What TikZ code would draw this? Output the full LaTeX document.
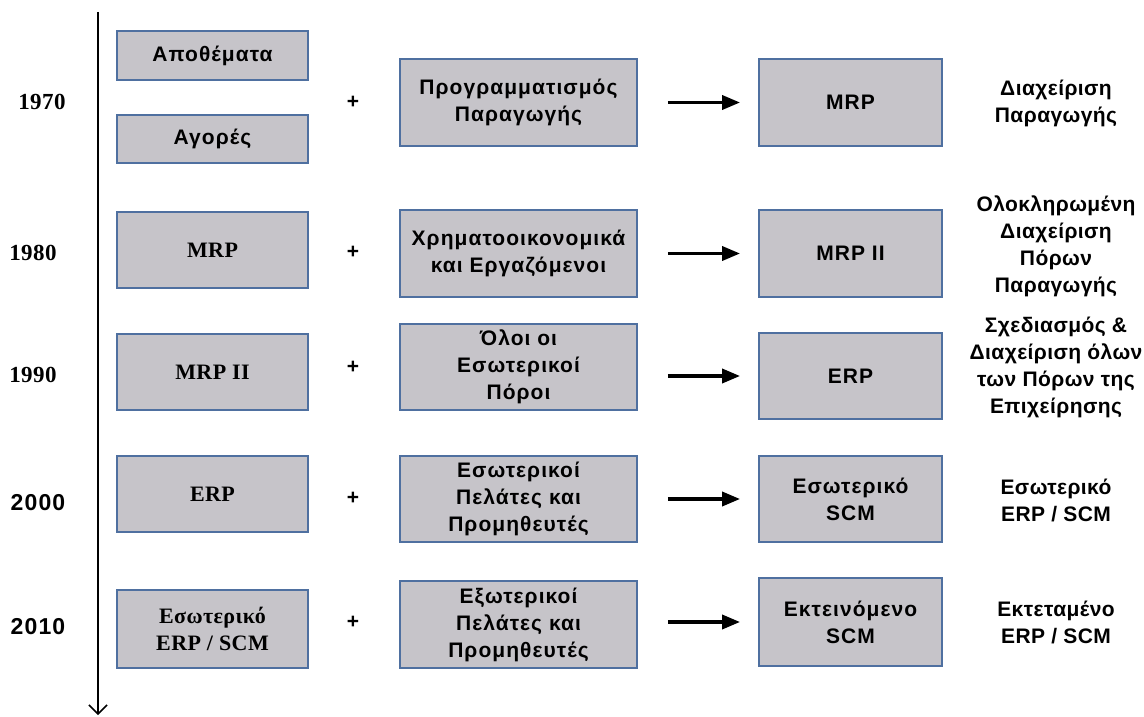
\documentclass[tikz,border=0pt]{standalone}
\usepackage{fontspec}
\setmainfont{Liberation Sans}[LetterSpace=5]
\newfontfamily\notesans{Liberation Sans}[LetterSpace=2]
\newfontfamily\timesgr{Liberation Serif}[LetterSpace=2]
\usetikzlibrary{arrows.meta}
\definecolor{boxfill}{RGB}{198,196,201}
\definecolor{boxline}{RGB}{79,112,160}
\tikzset{box/.style={draw=boxline, fill=boxfill, line width=1.8pt, align=center, inner sep=0pt,
                     font=\fontsize{21}{27}\selectfont\bfseries},
         tbox/.style={box, font=\fontsize{22}{27}\timesgr\bfseries},
         colA/.style={minimum width=191pt},
         colB/.style={minimum width=237pt},
         colC/.style={minimum width=183pt},
         year/.style={font=\fontsize{23}{27}\timesgr\bfseries},
         syear/.style={font=\fontsize{23}{27}\selectfont\bfseries},
         plus/.style={font=\fontsize{21}{27}\selectfont\bfseries},
         note/.style={align=center, inner sep=0pt, font=\fontsize{21}{27}\notesans\bfseries},
         evolve/.style={line width=3.5pt, -{Triangle[length=18pt,width=14pt]},
                        shorten <=30pt, shorten >=18pt},
         timeline/.style={line width=1.5pt, -{Straight Barb[length=9pt,width=18pt]}}}

\begin{document}
\begin{tikzpicture}[x=1pt,y=-1pt]
		\useasboundingbox (0,0) rectangle (1144,717);
		\coordinate (top) at (98,12);
		\coordinate (bottom) at (98,715);
		\draw[timeline] (top) -- (bottom);

		\node[year] (y70) at (42,102) {1970};
		\node[box,colA,minimum height=49pt] (stock) at (212.5,55.5) {Αποθέματα};
		\node[box,colA,minimum height=48pt] (markets) at (212.5,139) {Αγορές};
		\node[plus] (p70) at (353,102) {+};
		\node[box,colB,minimum height=87pt] (b70) at (518.5,102.5) {Προγραμματισμός\\Παραγωγής};
		\node[box,colC,minimum height=87pt] (c70) at (850.5,102.5) {MRP};
		\node[note] (n70) at (1056,103) {Διαχείριση\\Παραγωγής};
		\draw[evolve] (b70.east |- c70.west) -- (c70.west);

		\node[year] (y80) at (33,253) {1980};
		\node[tbox,colA,minimum height=76pt] (a80) at (212.5,250) {MRP};
		\node[plus] (p80) at (353,252) {+};
		\node[box,colB,minimum height=87pt] (b80) at (518.5,253.5) {Χρηματοοικονομικά\\και Εργαζόμενοι};
		\node[box,colC,minimum height=87pt] (c80) at (850.5,253.5) {MRP II};
		\node[note] (n80) at (1056,246) {Ολοκληρωμένη\\Διαχείριση\\Πόρων\\Παραγωγής};
		\draw[evolve] (b80.east |- c80.west) -- (c80.west);

		\node[year] (y90) at (33,375) {1990};
		\node[tbox,colA,minimum height=76pt] (a90) at (212.5,372) {MRP II};
		\node[plus] (p90) at (353,367) {+};
		\node[box,colB,minimum height=86pt] (b90) at (518.5,367) {Όλοι οι\\Εσωτερικοί\\Πόροι};
		\node[box,colC,minimum height=86pt] (c90) at (850.5,376) {ERP};
		\node[note] (n90) at (1056,367) {Σχεδιασμός \&\\Διαχείριση όλων\\των Πόρων της\\Επιχείρησης};
		\draw[evolve] (b90.east |- c90.west) -- (c90.west);

		\node[syear] (y00) at (38,503) {2000};
		\node[tbox,colA,minimum height=76pt] (a00) at (212.5,494) {ERP};
		\node[plus] (p00) at (353,498) {+};
		\node[box,colB,minimum height=86pt] (b00) at (518.5,499) {Εσωτερικοί\\Πελάτες και\\Προμηθευτές};
		\node[box,colC,minimum height=86pt] (c00) at (850.5,499) {Εσωτερικό\\SCM};
		\node[note] (n00) at (1056,500) {Εσωτερικό\\ERP / SCM};
		\draw[evolve] (b00.east |- c00.west) -- (c00.west);

		\node[syear] (y10) at (38,627) {2010};
		\node[tbox,colA,minimum height=78pt] (a10) at (212.5,629) {Εσωτερικό\\ERP / SCM};
		\node[plus] (p10) at (353,622) {+};
		\node[box,colB,minimum height=87pt] (b10) at (518.5,624.5) {Εξωτερικοί\\Πελάτες και\\Προμηθευτές};
		\node[box,colC,minimum height=88pt] (c10) at (850.5,622) {Εκτεινόμενο\\SCM};
		\node[note] (n10) at (1056,622) {Εκτεταμένο\\ERP / SCM};
		\draw[evolve] (b10.east |- c10.west) -- (c10.west);
\end{tikzpicture}
\end{document}
